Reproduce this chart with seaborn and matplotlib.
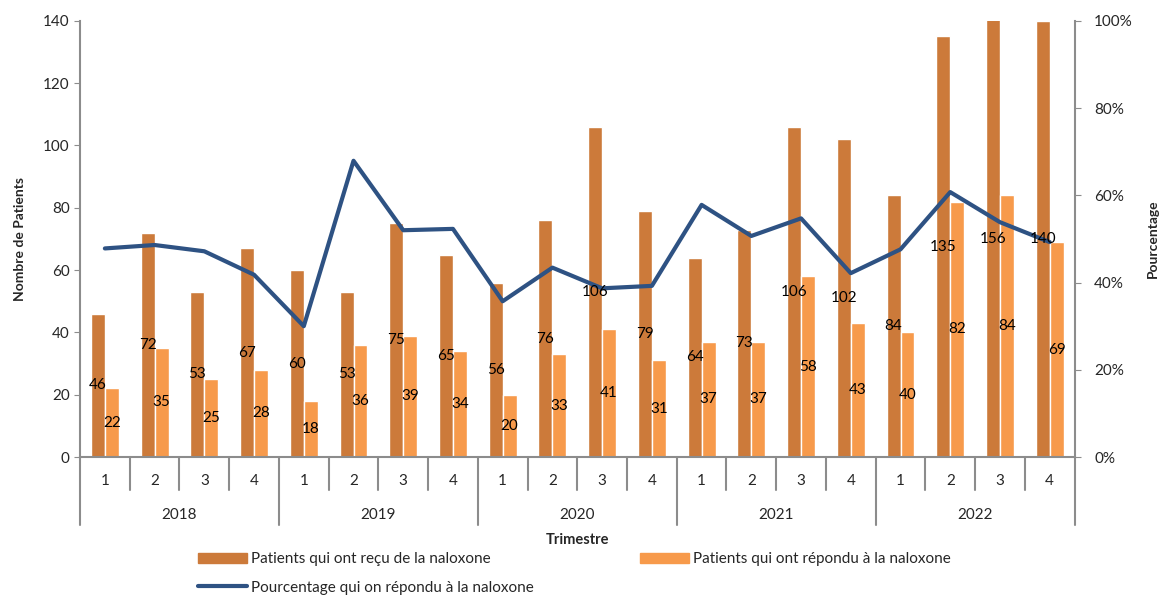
import matplotlib
matplotlib.use("Agg")
import matplotlib.pyplot as plt
import matplotlib.ticker as ticker
import matplotlib.transforms as mtransforms
import seaborn as sns
import pandas as pd

# data
years = ["2018", "2019", "2020", "2021", "2022"]
quarters = ["1", "2", "3", "4"]
recu = [46, 72, 53, 67, 60, 53, 75, 65, 56, 76, 106, 79, 64, 73, 106, 102, 84, 135, 156, 140]
repondu = [22, 35, 25, 28, 18, 36, 39, 34, 20, 33, 41, 31, 37, 37, 58, 43, 40, 82, 84, 69]
lab_recu = "Patients qui ont reçu de la naloxone"
lab_rep = "Patients qui ont répondu à la naloxone"
lab_pct = "Pourcentage qui on répondu à la naloxone"

n = len(recu)
pct = [r / t for r, t in zip(repondu, recu)]
df = pd.DataFrame({
    "pos": list(range(n)) * 2,
    "val": recu + repondu,
    "serie": [lab_recu] * n + [lab_rep] * n,
})

sns.set_style("white")
plt.rcParams["font.family"] = ["Lato", "DejaVu Sans"]
col_dark = "#CC7A3A"
col_light = "#F79A4B"
col_line = "#2E5283"
grey = "#8C8C8C"
txt = "#262626"

fig = plt.figure(figsize=(11.68, 5.97), dpi=100)
ax = fig.add_axes([0.0685, 0.2345, 0.8515, 0.7305])
sns.barplot(data=df, x="pos", y="val", hue="serie", palette=[col_dark, col_light],
            width=0.56, gap=0, saturation=1, ax=ax, legend=False)
ax.set_xlim(-0.5, n - 0.5)
ax.set_ylim(0, 140)
ax.yaxis.set_major_locator(ticker.MultipleLocator(20))
ax.set_xticks(range(n))
ax.set_xticklabels(quarters * len(years))
ax.tick_params(axis="x", length=0, pad=12, labelsize=11, labelcolor=txt)
ax.tick_params(axis="y", left=True, length=4, color=grey, labelsize=11, labelcolor=txt)
ax.set_xlabel("")
ax.set_ylabel("Nombre de Patients", fontsize=10, fontweight="bold", labelpad=12)
for s in ["top", "right"]:
    ax.spines[s].set_visible(False)
for s in ["left", "bottom"]:
    ax.spines[s].set_color(grey)
    ax.spines[s].set_linewidth(1.5)

ax2 = ax.twinx()
ax2.plot(range(n), pct, color=col_line, lw=3, solid_joinstyle="round", label=lab_pct)
ax2.set_ylim(0, 1)
ax2.yaxis.set_major_locator(ticker.MultipleLocator(0.2))
ax2.yaxis.set_major_formatter(ticker.PercentFormatter(1, decimals=0))
ax2.tick_params(axis="y", right=True, length=4, color=grey, labelsize=11, labelcolor=txt, pad=10)
ax2.set_ylabel("Pourcentage", fontsize=10, fontweight="bold", labelpad=10)
for s in ["top", "left", "bottom"]:
    ax2.spines[s].set_visible(False)
ax2.spines["right"].set_color(grey)
ax2.spines["right"].set_linewidth(1.5)

# data labels, drawn above the line
for cont in ax.containers:
    for bar in cont:
        h = bar.get_height()
        x = bar.get_x() + bar.get_width() / 2
        ax2.text(x, min(h, 140) / 2, f"{h:.0f}", transform=ax.transData,
                 ha="center", va="center", fontsize=11, color="black")

# two-level category axis
tr = mtransforms.blended_transform_factory(ax.transData, ax.transAxes)
for i in range(n + 1):
    low = -0.156 if i % 4 == 0 else -0.076
    ax.plot([i - 0.5, i - 0.5], [0, low], transform=tr, color=grey, lw=1.5, clip_on=False)
for k, y in enumerate(years):
    ax.text(k * 4 + 1.5, -0.133, y, transform=tr, ha="center", va="center", fontsize=11, color=txt)
ax.text(0.5, -0.19, "Trimestre", transform=ax.transAxes, ha="center", va="center",
        fontsize=10.5, fontweight="bold")

handles = [plt.Rectangle((0, 0), 1, 1, color=col_dark),
           plt.Line2D([], [], color=col_line, lw=3),
           plt.Rectangle((0, 0), 1, 1, color=col_light)]
fig.legend(handles, [lab_recu, lab_pct, lab_rep], ncol=2, loc="upper left",
           bbox_to_anchor=(0.163, 0.088), frameon=False, fontsize=11,
           handlelength=3.2, handleheight=0.6, handletextpad=0.3,
           columnspacing=6.9, labelspacing=0.95, borderpad=0)

fig.savefig("out.png", dpi=100)
